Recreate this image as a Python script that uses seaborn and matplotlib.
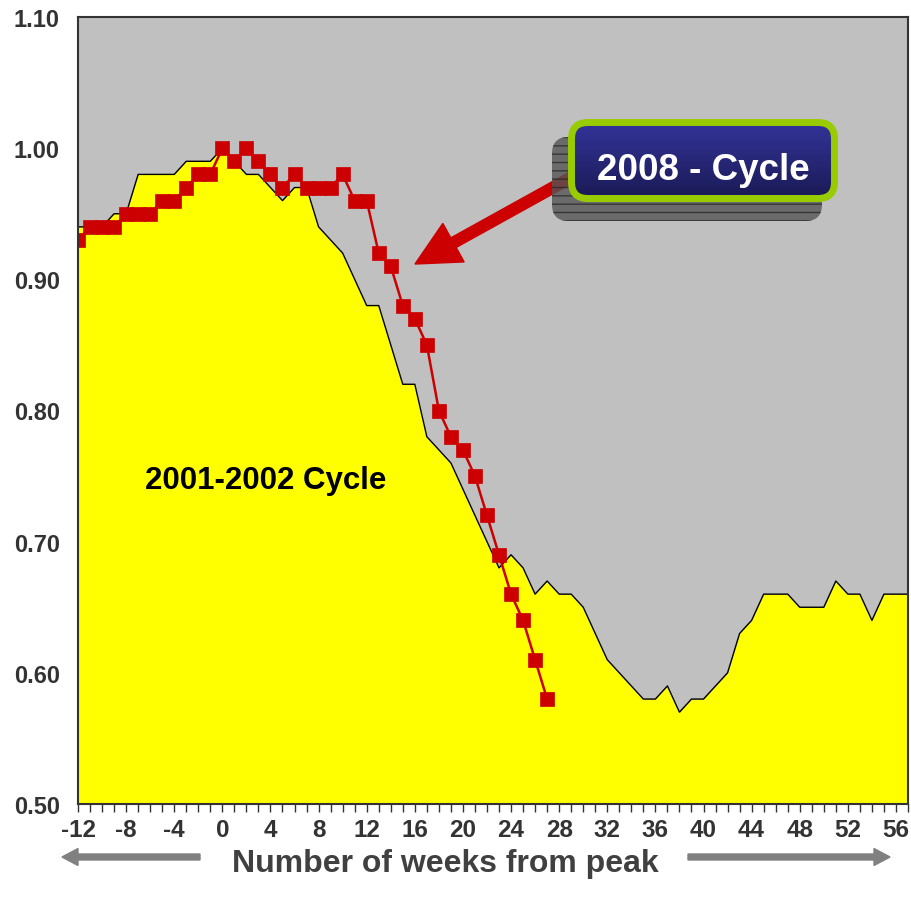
import numpy as np
import seaborn as sns
import matplotlib.pyplot as plt
from matplotlib.patches import FancyBboxPatch, FancyArrow
from matplotlib.ticker import MultipleLocator, FormatStrFormatter

# 2001-2002 cycle (yellow area), weeks -12 .. 57
weeks_2001 = list(range(-12, 58))
cycle_2001 = [0.94, 0.94, 0.94, 0.95, 0.95, 0.98, 0.98, 0.98, 0.98, 0.99,
              0.99, 0.99, 1.00, 0.99, 0.98, 0.98, 0.97, 0.96, 0.97, 0.97,
              0.94, 0.93, 0.92, 0.90, 0.88, 0.88, 0.85, 0.82, 0.82, 0.78,
              0.77, 0.76, 0.74, 0.72, 0.70, 0.68, 0.69, 0.68, 0.66, 0.67,
              0.66, 0.66, 0.65, 0.63, 0.61, 0.60, 0.59, 0.58, 0.58, 0.59,
              0.57, 0.58, 0.58, 0.59, 0.60, 0.63, 0.64, 0.66, 0.66, 0.66,
              0.65, 0.65, 0.65, 0.67, 0.66, 0.66, 0.64, 0.66, 0.66, 0.66]

# 2008 cycle (red line), weeks -12 .. 27
weeks_2008 = list(range(-12, 28))
cycle_2008 = [0.93, 0.94, 0.94, 0.94, 0.95, 0.95, 0.95, 0.96, 0.96, 0.97,
              0.98, 0.98, 1.00, 0.99, 1.00, 0.99, 0.98, 0.97, 0.98, 0.97,
              0.97, 0.97, 0.98, 0.96, 0.96, 0.92, 0.91, 0.88, 0.87, 0.85,
              0.80, 0.78, 0.77, 0.75, 0.72, 0.69, 0.66, 0.64, 0.61, 0.58]

x_ticks = list(range(-12, 57, 4))
y_ticks = [0.50, 0.60, 0.70, 0.80, 0.90, 1.00, 1.10]

W = H = 912

sns.set_style("white", {"axes.facecolor": "#C0C0C0"})
plt.rcParams['font.family'] = ['Liberation Sans', 'DejaVu Sans']
plt.rcParams['axes.unicode_minus'] = False

fig = plt.figure(figsize=(W / 100, H / 100), dpi=100)
ax = fig.add_axes([78 / W, 1 - 805 / H, 830 / W, 787 / H])


def fxy(px, py):
    # pixel position (from top-left) -> figure fraction
    return px / W, 1 - py / H


# yellow area with black outline
ax.fill_between(weeks_2001, 0.5, cycle_2001, color="#FFFF00", lw=0, zorder=2)
sns.lineplot(x=weeks_2001, y=cycle_2001, ax=ax, color="black", lw=1.0, zorder=3)

# red 2008 line
sns.lineplot(x=weeks_2008, y=cycle_2008, ax=ax, color="#CC0000", lw=1.8,
             marker="s", markersize=9.5, markeredgecolor="#CC0000",
             markeredgewidth=0.5, zorder=4)

ax.set_xlim(-12, 57)
ax.set_ylim(0.5, 1.1)
ax.set_xticks(x_ticks)
ax.xaxis.set_minor_locator(MultipleLocator(1))
ax.set_yticks(y_ticks)
ax.yaxis.set_major_formatter(FormatStrFormatter("%.2f"))
ax.tick_params(axis="y", which="major", direction="out", length=7, width=1.2,
               color="#333333", labelsize=17, labelcolor="#333333", pad=6)
ax.tick_params(axis="x", which="both", direction="out", length=6, width=1.0,
               color="#333333", bottom=True, pad=4, labelsize=17.5,
               labelcolor="#333333")
for lab in ax.get_yticklabels() + ax.get_xticklabels():
    lab.set_fontweight("bold")
for sp in ax.spines.values():
    sp.set_color("#333333")
    sp.set_linewidth(1.5)
    sp.set_zorder(6)
ax.set_xlabel("")
ax.set_ylabel("")

ax.text(-6.45, 0.747, "2001-2002 Cycle", fontsize=22.5, fontweight="bold",
        color="black", ha="left", va="center", zorder=5)

# red arrow pointing at the 2008 line
tx, ty = fxy(572, 178)
hx, hy = fxy(415, 265)
fig.add_artist(FancyArrow(tx, ty, hx - tx, hy - ty, width=11 / W,
                          head_width=44 / W, head_length=44 / W,
                          length_includes_head=True, color="#CC0000",
                          transform=fig.transFigure, zorder=7))

# shadow of the label box
sx, sy = fxy(552, 222)
shadow = FancyBboxPatch((sx, sy), 270 / W, 84 / H,
                        boxstyle="round,pad=0,rounding_size=0.018",
                        facecolor="#555555", edgecolor="#2a2a2a", hatch="--",
                        lw=0, alpha=0.8, transform=fig.transFigure, zorder=8)
fig.add_artist(shadow)

# navy label box with gradient and lime border
bx, by = fxy(571.5, 199.5)
bw, bh = 263 / W, 76 / H
box = FancyBboxPatch((bx, by), bw, bh,
                     boxstyle="round,pad=0,rounding_size=0.018",
                     facecolor="#27277a", edgecolor="none",
                     transform=fig.transFigure, zorder=9)
fig.add_artist(box)
gax = fig.add_axes([bx, by, bw, bh], zorder=9)
gax.set_axis_off()
grad = np.linspace(0, 1, 64).reshape(-1, 1)
im = gax.imshow(grad, aspect="auto",
                cmap=sns.blend_palette(["#333399", "#1a1a55"], as_cmap=True),
                extent=(0, 1, 0, 1), origin="upper")
im.set_clip_path(box)
border = FancyBboxPatch((bx, by), bw, bh,
                        boxstyle="round,pad=0,rounding_size=0.018",
                        facecolor="none", edgecolor="#99CC00", lw=5,
                        transform=fig.transFigure, zorder=10)
fig.add_artist(border)
cx, cy = fxy(703, 170)
fig.text(cx, cy, "2008 - Cycle", fontsize=26.5, fontweight="bold", color="white",
         ha="center", va="center", zorder=11)

# x axis title with side arrows
lx, ly = fxy(200, 858)
fig.add_artist(FancyArrow(lx, ly, -138 / W, 0, width=6 / W, head_width=17 / W,
                          head_length=16 / W, length_includes_head=True,
                          color="#808080", transform=fig.transFigure))
rx, ry = fxy(688, 858)
fig.add_artist(FancyArrow(rx, ry, 202 / W, 0, width=6 / W, head_width=17 / W,
                          head_length=16 / W, length_includes_head=True,
                          color="#808080", transform=fig.transFigure))
mx, my = fxy(445, 864)
fig.text(mx, my, "Number of weeks from peak", fontsize=23, fontweight="bold",
         color="#404040", ha="center", va="center")

fig.savefig("out.png", dpi=100)
